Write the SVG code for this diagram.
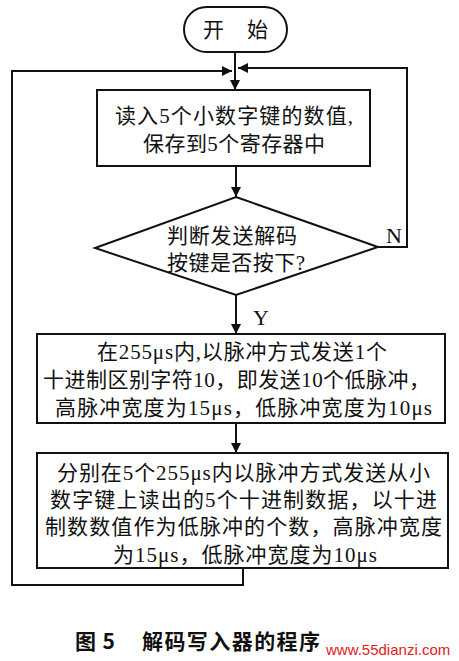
<svg xmlns="http://www.w3.org/2000/svg" width="459" height="661" viewBox="0 0 459 661">
<style>
.box{fill:#fff;stroke:#111;stroke-width:2}
.ln{fill:none;stroke:#111;stroke-width:2}
.t{font-family:"Liberation Serif","Noto Sans CJK SC",serif;font-size:21px;fill:#111}
.lb{font-family:"Liberation Serif","Noto Sans CJK SC",serif;font-size:22px;fill:#111}
.cap{font-family:"Noto Sans CJK SC","Liberation Sans",sans-serif;font-size:21px;font-weight:bold;fill:#111}
.wm{font-family:"Liberation Sans",Arial,sans-serif;font-size:15px;fill:#e0201c}
</style>
<defs>
<marker id="ah" viewBox="0 0 10 10" refX="10" refY="5" markerWidth="5" markerHeight="5" orient="auto" markerUnits="strokeWidth">
<path d="M0,0 L10,5 L0,10 z" fill="#111"/>
</marker>
</defs>
<rect width="459" height="661" fill="#fff"/>
<g id="connectors">
<line class="ln" x1="235" y1="52" x2="235" y2="90" marker-end="url(#ah)"/>
<line class="ln" x1="236" y1="166" x2="236" y2="197" marker-end="url(#ah)"/>
<line class="ln" x1="236" y1="295" x2="236" y2="334" marker-end="url(#ah)"/>
<line class="ln" x1="236" y1="423" x2="236" y2="453" marker-end="url(#ah)"/>
<polyline class="ln" points="378,247 407,247 407,68 238,68" marker-end="url(#ah)"/>
<polyline class="ln" points="243,568 243,585 12,585 12,71 232,71" marker-end="url(#ah)"/>
<text class="lb" x="386" y="243">N</text>
<text class="lb" x="253" y="325">Y</text>
</g>
<g id="start">
<rect class="box" x="184" y="7" width="103" height="45" rx="22.5"/>
<text class="t" x="203" y="37" textLength="65" lengthAdjust="spacing">开　始</text>
</g>
<g id="read">
<rect class="box" x="97" y="90" width="273" height="76"/>
<text class="t" x="115" y="123" textLength="238" lengthAdjust="spacing">读入5个小数字键的数值,</text>
<text class="t" x="143" y="151" textLength="182" lengthAdjust="spacing">保存到5个寄存器中</text>
</g>
<g id="decide">
<polygon class="box" points="236,197 378,247 236,295 95,248"/>
<text class="t" x="167" y="243" textLength="130" lengthAdjust="spacing">判断发送解码</text>
<text class="t" x="167" y="270" textLength="138" lengthAdjust="spacing">按键是否按下?</text>
</g>
<g id="send1">
<rect class="box" x="37" y="334" width="408" height="89"/>
<text class="t" x="97" y="359" textLength="290" lengthAdjust="spacing">在255μs内,以脉冲方式发送1个</text>
<text class="t" x="43" y="387" textLength="387" lengthAdjust="spacing">十进制区别字符10，即发送10个低脉冲，</text>
<text class="t" x="55" y="415" textLength="377" lengthAdjust="spacing">高脉冲宽度为15μs，低脉冲宽度为10μs</text>
</g>
<g id="send5">
<rect class="box" x="37" y="453" width="411" height="115"/>
<text class="t" x="57" y="480" textLength="373" lengthAdjust="spacing">分别在5个255μs内以脉冲方式发送从小</text>
<text class="t" x="50" y="507" textLength="387" lengthAdjust="spacing">数字键上读出的5个十进制数据，以十进</text>
<text class="t" x="45" y="534" textLength="397" lengthAdjust="spacing">制数数值作为低脉冲的个数，高脉冲宽度</text>
<text class="t" x="113" y="562" textLength="264" lengthAdjust="spacing">为15μs，低脉冲宽度为10μs</text>
</g>
<g id="caption">
<text class="cap" x="75" y="649" textLength="40" lengthAdjust="spacing">图 5</text>
<text class="cap" x="142" y="649" textLength="178" lengthAdjust="spacing">解码写入器的程序</text>
<text class="wm" x="326" y="655">www.55dianzi.com</text>
</g>
</svg>
